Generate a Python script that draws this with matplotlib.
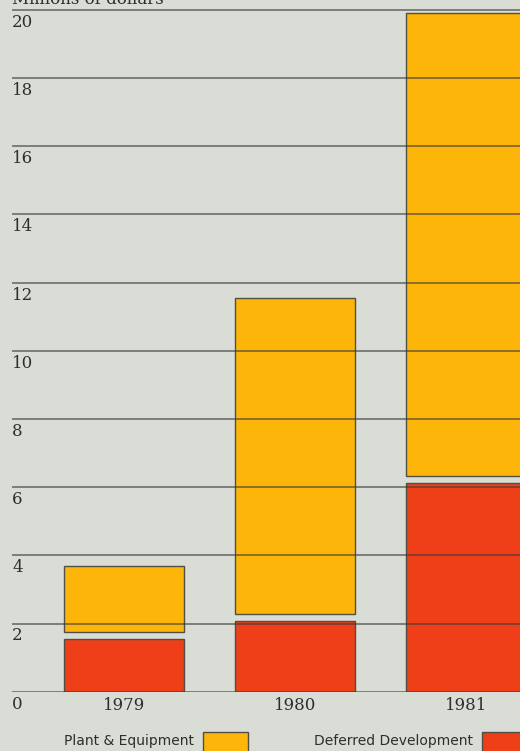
import matplotlib
matplotlib.use("Agg")
import matplotlib.pyplot as plt
from matplotlib.patches import Rectangle

# Data (millions of dollars)
years = ["1979", "1980", "1981"]
deferred_development = [1.55, 2.07, 6.11]
plant_equipment = [1.93, 9.26, 13.57]
y_ticks = [0, 2, 4, 6, 8, 10, 12, 14, 16, 18, 20]

BG = "#d9ddd5"
YELLOW = "#fdb50a"
RED = "#ef3f18"
EDGE = "#4f4f45"
GRID = "#3c3c3c"
TEXT = "#2e2e2e"

W, H = 520, 751
fig = plt.figure(figsize=(W / 100, H / 100), dpi=100)
fig.patch.set_facecolor(BG)

# axes geometry in pixels
x0_px, base_px, unit_px = 12, 691.7, 34.1
ax = fig.add_axes([x0_px / W, (H - base_px) / H, (W - x0_px) / W, base_px / H])
ax.set_facecolor(BG)
ax.set_ylim(0, base_px / unit_px)
spacing_px, first_center_px = 171, 124
ax.set_xlim(-(first_center_px - x0_px) / spacing_px,
            2 + (W - (first_center_px + 2 * spacing_px)) / spacing_px)
for s in ax.spines.values():
    s.set_visible(False)
ax.set_xticks([])
ax.set_yticks([])

xs = range(len(years))
bar_w = 120 / spacing_px
gap = 0.21
ax.bar(xs, deferred_development, width=bar_w, color=RED,
       edgecolor=EDGE, linewidth=1.0, zorder=2)
ax.bar(xs, plant_equipment, width=bar_w,
       bottom=[d + gap for d in deferred_development],
       color=YELLOW, edgecolor=EDGE, linewidth=1.0, zorder=2)

# horizontal rules with value labels beneath
for v in y_ticks:
    ax.axhline(v, color=GRID, lw=1.1, alpha=0.75, zorder=3)
    ax.annotate(str(v), xy=(0, v), xycoords=("axes fraction", "data"),
                xytext=(0, -4), textcoords="offset pixels",
                ha="left", va="top", fontsize=12, color=TEXT,
                family="DejaVu Serif")

# year labels
for x, yr in zip(xs, years):
    ax.annotate(yr, xy=(x, 0), xycoords="data",
                xytext=(0, -5), textcoords="offset pixels",
                ha="center", va="top", fontsize=12, color=TEXT,
                family="DejaVu Serif")

# axis title, sitting at the very top edge
fig.text(x0_px / W, 1 - 4 / H, "Millions of dollars", ha="left",
         va="baseline", fontsize=12, color=TEXT, family="DejaVu Serif")

# legend
def legend_item(label, color, text_right_px, box_left_px):
    fig.text(text_right_px / W, 1 - 745 / H, label, ha="right",
             va="baseline", fontsize=10, color=TEXT, family="DejaVu Sans")
    fig.patches.append(Rectangle((box_left_px / W, 1 - 760 / H), 45 / W, 28 / H,
                                 transform=fig.transFigure, facecolor=color,
                                 edgecolor=EDGE, linewidth=1.0))

legend_item("Plant & Equipment", YELLOW, 194, 203)
legend_item("Deferred Development", RED, 473, 482)

fig.savefig("out.png", dpi=100, facecolor=BG)
